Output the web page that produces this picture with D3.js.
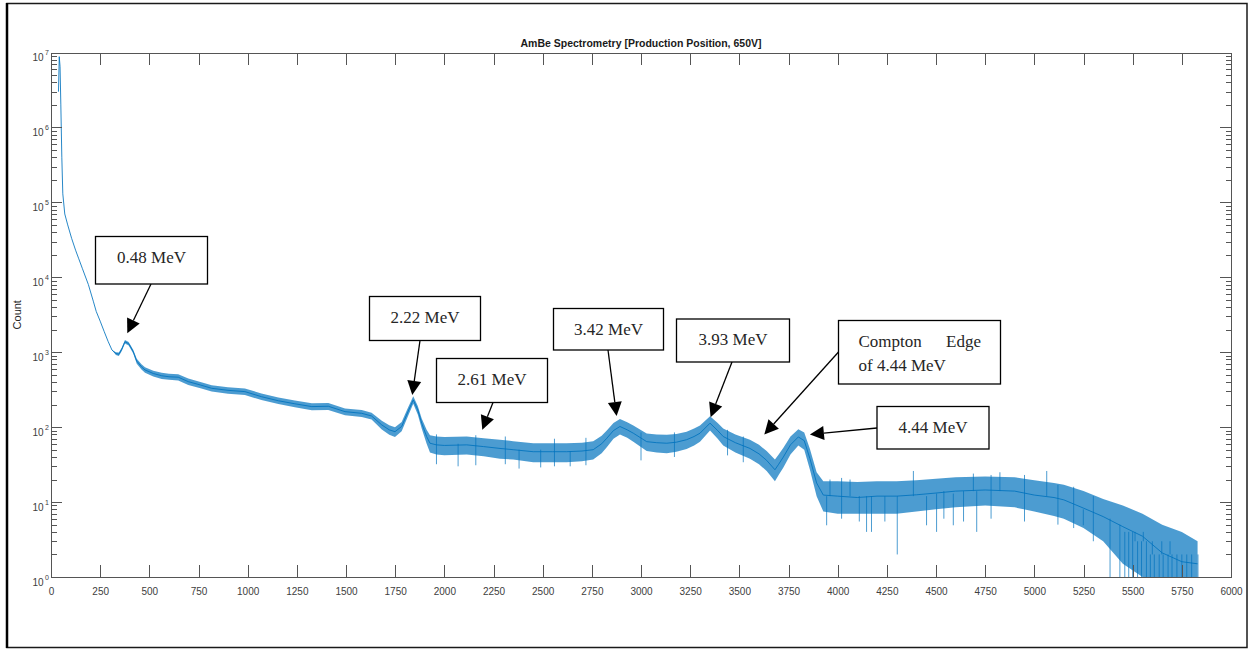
<!DOCTYPE html>
<meta charset="utf-8">
<style>
body { margin: 0; background: #fff; }
.axis path, .axis line { stroke: #555; shape-rendering: crispEdges; }
.axis text { font: 10px "Liberation Sans", Arial, sans-serif; fill: #404040; }
.ylab { font: 10px "Liberation Sans", Arial, sans-serif; fill: #404040; }
.note text { font: 17px "Liberation Serif", "Times New Roman", serif; fill: #262626; }
</style>
<body>
<script src="https://d3js.org/d3.v7.min.js"></script>
<script>

// spectrum (channel -> count, with the noise band)
const channel = [38, 42, 46, 50, 55, 60, 70, 85, 105, 125, 140, 160, 190, 215, 230, 250, 270, 290, 310, 330,
  345, 360, 376, 395, 418, 436, 460, 478, 520, 563, 600, 647, 698, 760, 817, 900, 986, 1070, 1156, 1240,
  1326, 1410, 1495, 1580, 1630, 1682, 1720, 1749, 1783, 1815, 1842, 1865, 1885, 1910, 1927, 1960, 2000, 2114, 2200, 2283,
  2350, 2452, 2550, 2622, 2700, 2757, 2800, 2826, 2860, 2893, 2930, 2961, 3029, 3080, 3131, 3180, 3232, 3270, 3300, 3351,
  3390, 3418, 3480, 3554, 3600, 3639, 3681, 3700, 3724, 3760, 3800, 3830, 3859, 3893, 3927, 4000, 4100, 4200, 4300, 4400,
  4500, 4600, 4750, 4900, 5000, 5100, 5150, 5250, 5350, 5450, 5550, 5650, 5750, 5830];
const count = [3.0e6, 8.8e6, 6.5e6, 2.0e6, 4.0e5, 1.3e5, 7.0e4, 5.0e4, 3.3e4, 2.3e4, 1.8e4, 1.3e4, 8000, 4800, 3500, 2600, 1900, 1400, 1070, 960,
  940, 1100, 1380, 1300, 1020, 760, 640, 580, 520, 485, 470, 464, 405, 365, 330, 310, 298, 255, 225, 205,
  188, 190, 161, 153, 141, 107, 92, 87, 102, 160, 231, 170, 113, 75, 61, 58, 57, 58, 55, 52,
  50, 47, 47, 47, 48, 50, 60, 71, 90, 102, 92, 83, 64, 62, 61, 63, 68, 75, 83, 113,
  90, 75, 62, 52, 44, 36, 27, 32, 40, 58, 74, 66, 38, 18, 12.4, 12, 11.5, 12, 12, 12.5,
  13.2, 14, 14.5, 14, 12.4, 11.5, 10.7, 8.3, 6.4, 4.7, 3.5, 2.1, 1.6, 1.5];
const countLow = [3.0e6, 8.8e6, 6.5e6, 2.0e6, 4.0e5, 1.3e5, 7.0e4, 5.0e4, 3.3e4, 2.3e4, 1.8e4, 1.3e4, 8000, 4800, 3500, 2600, 1900, 1400, 1070, 920,
  890, 1040, 1310, 1230, 960, 700, 590, 530, 475, 440, 430, 420, 365, 330, 298, 280, 268, 230, 203, 184,
  168, 170, 144, 137, 126, 93, 79, 74, 88, 140, 205, 148, 96, 60, 46, 43, 42, 43, 41, 38,
  37, 34, 34, 34, 35, 37, 45, 54, 70, 80, 72, 64, 48, 46, 45, 47, 51, 57, 64, 90,
  70, 57, 46, 38, 32, 26, 19, 23, 29, 43, 57, 50, 27, 12, 7.5, 7, 7, 7, 7, 7.5,
  8, 8.5, 9, 8.5, 7.5, 6.5, 6, 4.5, 3, 1.5, 1, 1, 1, 1];
const countHigh = [3.0e6, 8.8e6, 6.5e6, 2.0e6, 4.0e5, 1.3e5, 7.0e4, 5.0e4, 3.3e4, 2.3e4, 1.8e4, 1.3e4, 8000, 4800, 3500, 2600, 1900, 1400, 1070, 1000,
  990, 1160, 1450, 1370, 1080, 820, 690, 630, 565, 530, 515, 510, 445, 400, 362, 340, 328, 282, 248, 226,
  208, 210, 178, 170, 156, 122, 106, 100, 117, 182, 258, 192, 130, 92, 78, 75, 74, 75, 71, 68,
  65, 61, 61, 61, 62, 65, 77, 90, 114, 128, 116, 105, 82, 80, 79, 81, 87, 96, 105, 140,
  114, 96, 80, 68, 58, 48, 37, 43, 53, 75, 94, 85, 51, 25, 19, 19, 18.5, 19, 19, 19.5,
  20.5, 21.5, 22, 21.5, 19.5, 18, 17, 14, 11, 9, 7, 5, 4, 3];

// single noisy channels that stick out of the band
const spikeChannel = [1960, 2070, 2160, 2310, 2380, 2490, 2560, 2640, 2720, 3000, 3170, 3440, 3520, 3944, 3961, 4020, 4063, 4110,
  4147, 4172, 4240, 4303, 4385, 4452, 4503, 4540, 4588, 4640, 4690, 4707, 4780, 4825, 4950, 5063, 5120, 5200,
  5249, 5300, 5385, 5435, 5460, 5480, 5500, 5512, 5525, 5545, 5554, 5570, 5590, 5600, 5610, 5635, 5648,
  5655, 5680, 5690, 5700, 5725, 5750, 5775, 5800, 5832];
const spikeLow = [32, 30, 31, 32, 28, 29, 30, 30, 31, 36, 40, 42, 34, 4.9, 12, 6, 12, 5.5,
  4, 4, 5.5, 2, 12, 4.9, 4, 6, 4.9, 5.5, 14, 4, 6, 14, 5.5, 12, 5, 4.5,
  4.9, 3, 1, 1, 1, 1, 1, 3, 1, 1, 3, 1, 1, 2, 1, 1, 2,
  1, 1, 2, 1, 1, 1, 1, 1, 1];
const spikeHigh = [80, 60, 78, 75, 50, 50, 70, 48, 72, 85, 85, 92, 75, 12, 20, 21, 20, 12,
  12, 12, 12, 12, 26, 12, 13, 14, 13, 14, 24, 14, 23, 25, 23, 26, 17, 16,
  8, 12, 6, 5, 4, 4, 4, 4, 3, 3, 4, 3, 2, 3, 2, 2, 3,
  2, 2, 3, 2, 2, 2, 2, 2, 2];

const xTicks = [0, 250, 500, 750, 1000, 1250, 1500, 1750, 2000, 2250, 2500, 2750, 3000, 3250, 3500, 3750,
  4000, 4250, 4500, 4750, 5000, 5250, 5500, 5750, 6000];
const yExponents = [0, 1, 2, 3, 4, 5, 6, 7];

// peak annotations: what the arrow points at
const noteLabels = ["0.48 MeV", "2.22 MeV", "2.61 MeV", "3.42 MeV", "3.93 MeV", "Compton Edge of 4.44 MeV", "4.44 MeV"];
const noteChannel = [388, 1837, 2193, 2876, 3354, 3627, 3859];
const noteCount = [1795, 269, 92, 141, 136, 80, 80];

// box placement (pixels) and where the arrow leaves the box
const noteBoxes = [
  {x: 95.5, y: 236.5, w: 112, h: 47.5, tail: [151, 284]},
  {x: 369.5, y: 296.5, w: 111, h: 44, tail: [420, 340.5]},
  {x: 436.5, y: 358.5, w: 111, h: 44, tail: [493, 402.5]},
  {x: 553.5, y: 308.5, w: 110, h: 41.5, tail: [608, 350]},
  {x: 676.5, y: 319, w: 113, h: 43, tail: [732, 362]},
  {x: 838.5, y: 320.5, w: 162, h: 63.5, tail: [838.5, 352]},
  {x: 877, y: 406.5, w: 112, h: 42.5, tail: [877, 428]}
];

const W = 1249, H = 649;
const plot = {left: 51, right: 1231, top: 52.5, bottom: 577};

const svg = d3.select("body").append("svg")
  .attr("width", W)
  .attr("height", H);

// outer frame of the figure
svg.append("rect")
  .attr("x", 7).attr("y", 3.5)
  .attr("width", 1240).attr("height", 644)
  .attr("fill", "none")
  .attr("stroke", "#1a1a1a")
  .attr("stroke-width", 1.5);
svg.append("line")
  .attr("x1", 7).attr("x2", 7).attr("y1", 3).attr("y2", 648)
  .attr("stroke", "#000").attr("stroke-width", 2.5);

const x = d3.scaleLinear().domain([0, 6000]).range([plot.left, plot.right]);
const y = d3.scaleLog().domain([1, 1e7]).range([plot.bottom, plot.top]);

svg.append("clipPath").attr("id", "clip")
  .append("rect")
  .attr("x", plot.left).attr("y", plot.top)
  .attr("width", plot.right - plot.left).attr("height", plot.bottom - plot.top);

const data = channel.map((c, i) => ({c: c, v: count[i], lo: countLow[i], hi: countHigh[i]}));

const g = svg.append("g").attr("clip-path", "url(#clip)");

// noise band
g.append("path")
  .datum(data)
  .attr("fill", "#0072BD")
  .attr("fill-opacity", 0.7)
  .attr("d", d3.area()
    .x(d => x(d.c))
    .y0(d => y(d.lo))
    .y1(d => y(d.hi)));

// spikes
g.selectAll("line.spike")
  .data(spikeChannel)
  .join("line")
  .attr("class", "spike")
  .attr("x1", d => x(d)).attr("x2", d => x(d))
  .attr("y1", (d, i) => y(spikeLow[i]))
  .attr("y2", (d, i) => y(spikeHigh[i]))
  .attr("stroke", "#0072BD")
  .attr("stroke-opacity", 0.7)
  .attr("stroke-width", 1);

// main trace
g.append("path")
  .datum(data)
  .attr("fill", "none")
  .attr("stroke", "#0072BD")
  .attr("stroke-opacity", 0.85)
  .attr("stroke-width", 1)
  .attr("d", d3.line()
    .x(d => x(d.c))
    .y(d => y(d.v)));

// axes (ticks pointing inwards, MATLAB style box)
const yMajor = yExponents.map(e => Math.pow(10, e));
const yMinor = [];
yExponents.slice(0, -1).forEach(e => {
  [2, 3, 4, 5, 6, 7, 8, 9].forEach(m => yMinor.push(m * Math.pow(10, e)));
});

svg.append("g").attr("class", "axis")
  .attr("transform", `translate(0,${plot.bottom})`)
  .call(d3.axisBottom(x).tickValues(xTicks).tickSize(-12).tickSizeOuter(0)
    .tickPadding(11).tickFormat(d3.format("d")));

svg.append("g").attr("class", "axis")
  .attr("transform", `translate(0,${plot.top})`)
  .call(d3.axisTop(x).tickValues(xTicks).tickSize(-12).tickSizeOuter(0).tickFormat(""));

svg.append("g").attr("class", "axis")
  .attr("transform", `translate(${plot.left},0)`)
  .call(d3.axisLeft(y).tickValues(yMajor).tickSize(-11).tickSizeOuter(0).tickFormat(""));
svg.append("g").attr("class", "axis")
  .attr("transform", `translate(${plot.left},0)`)
  .call(d3.axisLeft(y).tickValues(yMinor).tickSize(-5.5).tickSizeOuter(0).tickFormat(""));

svg.append("g").attr("class", "axis")
  .attr("transform", `translate(${plot.right},0)`)
  .call(d3.axisRight(y).tickValues(yMajor).tickSize(-11).tickSizeOuter(0).tickFormat(""));
svg.append("g").attr("class", "axis")
  .attr("transform", `translate(${plot.right},0)`)
  .call(d3.axisRight(y).tickValues(yMinor).tickSize(-5.5).tickSizeOuter(0).tickFormat(""));

// 10^n labels
const ylab = svg.append("g");
ylab.selectAll("text.base")
  .data(yExponents)
  .join("text")
  .attr("class", "ylab")
  .attr("x", 43.5)
  .attr("y", d => y(Math.pow(10, d)) + 8.5)
  .attr("text-anchor", "end")
  .text("10");
ylab.selectAll("text.exp")
  .data(yExponents)
  .join("text")
  .attr("class", "ylab")
  .attr("x", 45)
  .attr("y", d => y(Math.pow(10, d)) + 2.5)
  .style("font-size", "7px")
  .text(d => d);

svg.append("text")
  .attr("transform", `translate(21,${(plot.top + plot.bottom) / 2}) rotate(-90)`)
  .attr("text-anchor", "middle")
  .style("font", "11px 'Liberation Sans', Arial, sans-serif")
  .attr("fill", "#262626")
  .text("Count");

svg.append("text")
  .attr("x", (plot.left + plot.right) / 2)
  .attr("y", 47)
  .attr("text-anchor", "middle")
  .style("font", "bold 10.5px 'Liberation Sans', Arial, sans-serif")
  .attr("fill", "#1a1a1a")
  .text("AmBe Spectrometry [Production Position, 650V]");

// annotations
const headLen = 14, headHalf = 7;
const notes = svg.append("g").attr("class", "note");
noteLabels.forEach((label, i) => {
  const b = noteBoxes[i];
  const tip = [x(noteChannel[i]), y(noteCount[i])];
  const dx = tip[0] - b.tail[0], dy = tip[1] - b.tail[1];
  const len = Math.sqrt(dx * dx + dy * dy);
  const ux = dx / len, uy = dy / len;
  const base = [tip[0] - ux * headLen, tip[1] - uy * headLen];

  notes.append("line")
    .attr("x1", b.tail[0]).attr("y1", b.tail[1])
    .attr("x2", base[0]).attr("y2", base[1])
    .attr("stroke", "#000").attr("stroke-width", 1.3);
  notes.append("path")
    .attr("d", "M" + tip + "L" + [base[0] - uy * headHalf, base[1] + ux * headHalf] +
      "L" + [base[0] + uy * headHalf, base[1] - ux * headHalf] + "Z")
    .attr("fill", "#000");

  notes.append("rect")
    .attr("x", b.x).attr("y", b.y)
    .attr("width", b.w).attr("height", b.h)
    .attr("fill", "#fff")
    .attr("stroke", "#000")
    .attr("stroke-width", 1.3);

  if (label.startsWith("Compton")) {
    notes.append("text").attr("x", b.x + 20).attr("y", b.y + 26).text("Compton");
    notes.append("text").attr("x", b.x + 142.5).attr("y", b.y + 26).attr("text-anchor", "end").text("Edge");
    notes.append("text").attr("x", b.x + 20).attr("y", b.y + 50).text("of 4.44 MeV");
  } else {
    notes.append("text")
      .attr("x", b.x + b.w / 2)
      .attr("y", b.y + 26)
      .attr("text-anchor", "middle")
      .text(label);
  }
});

</script>
</body>
